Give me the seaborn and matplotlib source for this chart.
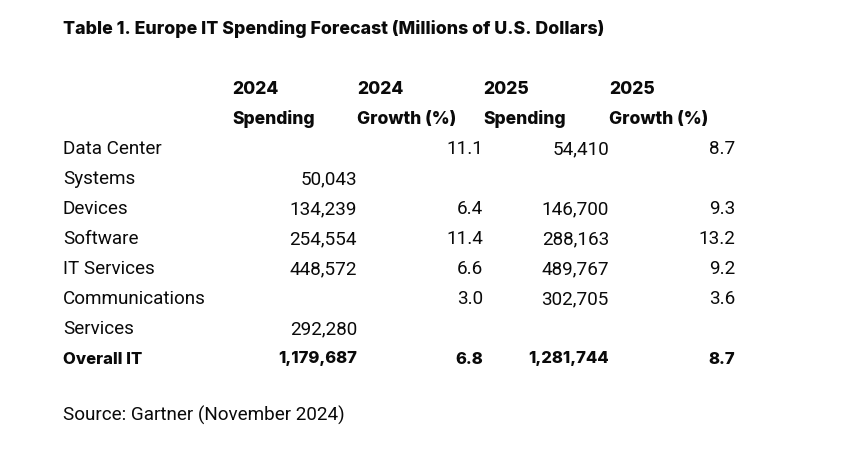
import matplotlib
matplotlib.use("Agg")
import matplotlib.pyplot as plt
import seaborn as sns
from matplotlib import font_manager

sns.set_theme(style="white")

# ---- data ----
title = "Table 1. Europe IT Spending Forecast (Millions of U.S. Dollars)"
col_years = ["2024", "2024", "2025", "2025"]
col_names = ["Spending", "Growth (%)", "Spending", "Growth (%)"]
categories = [["Data Center", "Systems"], ["Devices"], ["Software"], ["IT Services"],
              ["Communications", "Services"], ["Overall IT"]]
spend_2024 = [50043, 134239, 254554, 448572, 292280, 1179687]
growth_2024 = [11.1, 6.4, 11.4, 6.6, 3.0, 6.8]
spend_2025 = [54410, 146700, 288163, 489767, 302705, 1281744]
growth_2025 = [8.7, 9.3, 13.2, 9.2, 3.6, 8.7]
source = "Source: Gartner (November 2024)"

names = {f.name for f in font_manager.fontManager.ttflist}
body_font = "Roboto" if "Roboto" in names else "DejaVu Sans"
head_font = "Inter" if "Inter" in names else "DejaVu Sans"

fig = plt.figure(figsize=(8.42, 4.51), dpi=100)
fig.patch.set_facecolor("white")
ax = fig.add_axes([0, 0, 1, 1])
ax.set_xlim(0, 842)
ax.set_ylim(451, 0)
ax.axis("off")

ink = "#0a0a0a"
ax.text(63, 29, title, fontsize=12.8, fontweight="heavy", family=head_font,
        ha="left", va="center", color=ink)

head_left = [232, 357, 483, 609]
for x, yr, nm in zip(head_left, col_years, col_names):
    ax.text(x, 89, yr, fontsize=12.6, fontweight="heavy", family=head_font, ha="left", va="center", color=ink)
    ax.text(x, 119, nm, fontsize=12.6, fontweight="heavy", family=head_font, ha="left", va="center", color=ink)

right_edges = [357, 483, 609, 735]
y = 149
step = 30
for i, cat in enumerate(categories):
    bold = cat[0] == "Overall IT"
    fw = "heavy" if bold else "normal"
    fam = head_font if bold else body_font
    fs = 12 if bold else 13.6
    top = y
    bottom = y + step * (len(cat) - 1)
    for j, line in enumerate(cat):
        ax.text(63, y + j * step, line, fontsize=fs, fontweight=fw, family=fam,
                ha="left", va="center", color=ink)
    vals = [(f"{spend_2024[i]:,}", bottom),
            (f"{growth_2024[i]:.1f}", top),
            (f"{spend_2025[i]:,}", top),
            (f"{growth_2025[i]:.1f}", top)]
    for (txt, yy), xr in zip(vals, right_edges):
        ax.text(xr, yy, txt, fontsize=fs, fontweight=fw, family=fam,
                ha="right", va="center", color=ink)
    y += step * len(cat)

ax.text(63, 415, source, fontsize=13.6, family=body_font, ha="left", va="center", color=ink)

fig.savefig("out.png", dpi=100, facecolor="white")
